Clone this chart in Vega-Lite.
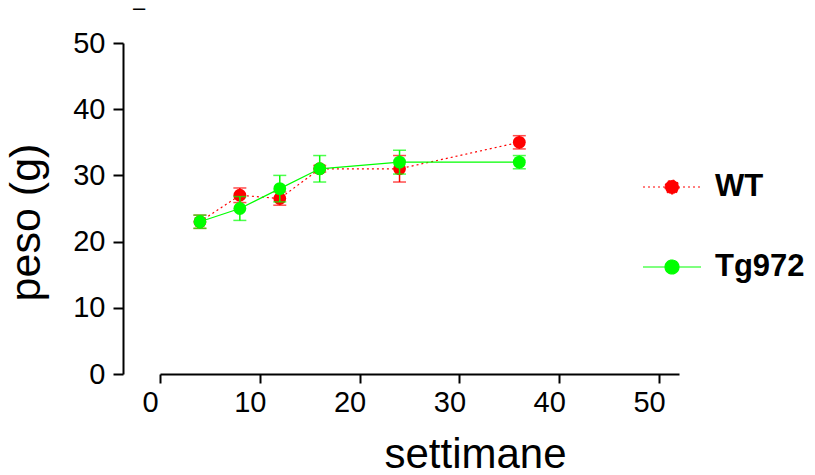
{
  "$schema": "https://vega.github.io/schema/vega-lite/v6.json",
  "autosize": "none",
  "width": 519,
  "height": 331,
  "padding": {"left": 160, "top": 43, "right": 136, "bottom": 101},
  "background": "white",
  "title": {"text": "–", "anchor": "start", "frame": "group", "dx": -27, "offset": -8, "fontSize": 22, "fontWeight": "normal", "font": "Liberation Sans", "color": "black", "baseline": "alphabetic"},
  "config": {
    "view": {"stroke": null},
    "font": "Liberation Sans",
    "axis": {
      "grid": false,
      "domainColor": "black",
      "domainWidth": 2,
      "tickColor": "black",
      "tickWidth": 2,
      "tickSize": 9,
      "labelFont": "Liberation Sans",
      "labelFontSize": 29,
      "labelColor": "black",
      "titleFont": "Liberation Sans",
      "titleFontWeight": "normal",
      "titleColor": "black"
    }
  },
  "data": {
    "values": [
      {"g": "WT", "x": 4, "y": 23, "lo": 22, "hi": 24},
      {"g": "WT", "x": 8, "y": 27, "lo": 25.9, "hi": 28.1},
      {"g": "WT", "x": 12, "y": 26.5, "lo": 25.5, "hi": 27.5},
      {"g": "WT", "x": 16, "y": 31, "lo": 30.5, "hi": 31.5},
      {"g": "WT", "x": 24, "y": 31, "lo": 29, "hi": 33},
      {"g": "WT", "x": 36, "y": 35, "lo": 34, "hi": 36},
      {"g": "Tg972", "x": 4, "y": 23, "lo": 22, "hi": 24},
      {"g": "Tg972", "x": 8, "y": 25, "lo": 23.2, "hi": 26.8},
      {"g": "Tg972", "x": 12, "y": 28, "lo": 26, "hi": 30},
      {"g": "Tg972", "x": 16, "y": 31, "lo": 29, "hi": 33},
      {"g": "Tg972", "x": 24, "y": 32, "lo": 30.2, "hi": 33.8},
      {"g": "Tg972", "x": 36, "y": 32, "lo": 31, "hi": 33}
    ]
  },
  "encoding": {
    "x": {
      "field": "x", "type": "quantitative",
      "scale": {"domain": [0, 52], "nice": false, "zero": false},
      "axis": {"values": [0, 10, 20, 30, 40, 50], "title": "settimane", "titleFontSize": 42, "labelFlush": false, "labelOffset": -10, "labelPadding": 5, "titlePadding": 17, "titleX": 315}
    },
    "y": {
      "field": "y", "type": "quantitative",
      "scale": {"domain": [0, 50], "nice": false},
      "axis": {"values": [0, 10, 20, 30, 40, 50], "title": "peso (g)", "titleFontSize": 43, "offset": 37, "tickSize": 10, "labelPadding": 8, "titlePadding": 24, "titleY": 179}
    },
    "color": {
      "field": "g", "type": "nominal",
      "scale": {"domain": ["WT", "Tg972"], "range": ["#ff0000", "#00ff00"]},
      "legend": {
        "orient": "none",
        "legendX": 482,
        "legendY": 114,
        "title": null,
        "symbolType": "M-1,0L1,0M-0.24,0A0.24,0.24,0,1,0,0.24,0A0.24,0.24,0,1,0,-0.24,0Z",
        "symbolSize": 3364,
        "symbolStrokeWidth": 1.2,
        "labelFont": "Liberation Sans",
        "labelFontSize": 31,
        "labelFontWeight": "bold",
        "labelColor": "black",
        "labelOffset": 13,
        "rowPadding": 35,
        "encode": {
          "symbols": {
            "update": {
              "fill": {"scale": "color", "field": "value"},
              "stroke": {"scale": "color", "field": "value"},
              "strokeDash": {"signal": "datum.value === 'WT' ? [2, 3] : [1, 0]"},
              "opacity": {"value": 1}
            }
          }
        }
      }
    }
  },
  "layer": [
    {
      "transform": [{"filter": "datum.g === 'WT'"}],
      "mark": {"type": "rule", "strokeWidth": 1.5},
      "encoding": {"y": {"field": "lo", "type": "quantitative"}, "y2": {"field": "hi"}}
    },
    {
      "transform": [{"filter": "datum.g === 'WT'"}],
      "mark": {"type": "tick", "orient": "horizontal", "size": 13, "thickness": 1.5},
      "encoding": {"y": {"field": "lo", "type": "quantitative"}}
    },
    {
      "transform": [{"filter": "datum.g === 'WT'"}],
      "mark": {"type": "tick", "orient": "horizontal", "size": 13, "thickness": 1.5},
      "encoding": {"y": {"field": "hi", "type": "quantitative"}}
    },
    {
      "transform": [{"filter": "datum.g === 'WT'"}],
      "mark": {"type": "line", "strokeWidth": 1.2, "strokeDash": [2, 3]},
      "encoding": {}
    },
    {
      "transform": [{"filter": "datum.g === 'WT'"}],
      "mark": {"type": "point", "shape": "circle", "filled": true, "size": 165, "opacity": 1},
      "encoding": {}
    },
    {
      "transform": [{"filter": "datum.g === 'Tg972'"}],
      "mark": {"type": "rule", "strokeWidth": 1.5},
      "encoding": {"y": {"field": "lo", "type": "quantitative"}, "y2": {"field": "hi"}}
    },
    {
      "transform": [{"filter": "datum.g === 'Tg972'"}],
      "mark": {"type": "tick", "orient": "horizontal", "size": 13, "thickness": 1.5},
      "encoding": {"y": {"field": "lo", "type": "quantitative"}}
    },
    {
      "transform": [{"filter": "datum.g === 'Tg972'"}],
      "mark": {"type": "tick", "orient": "horizontal", "size": 13, "thickness": 1.5},
      "encoding": {"y": {"field": "hi", "type": "quantitative"}}
    },
    {
      "transform": [{"filter": "datum.g === 'Tg972'"}],
      "mark": {"type": "line", "strokeWidth": 1.2},
      "encoding": {}
    },
    {
      "transform": [{"filter": "datum.g === 'Tg972'"}],
      "mark": {"type": "point", "shape": "circle", "filled": true, "size": 165, "opacity": 1},
      "encoding": {}
    }
  ]
}
